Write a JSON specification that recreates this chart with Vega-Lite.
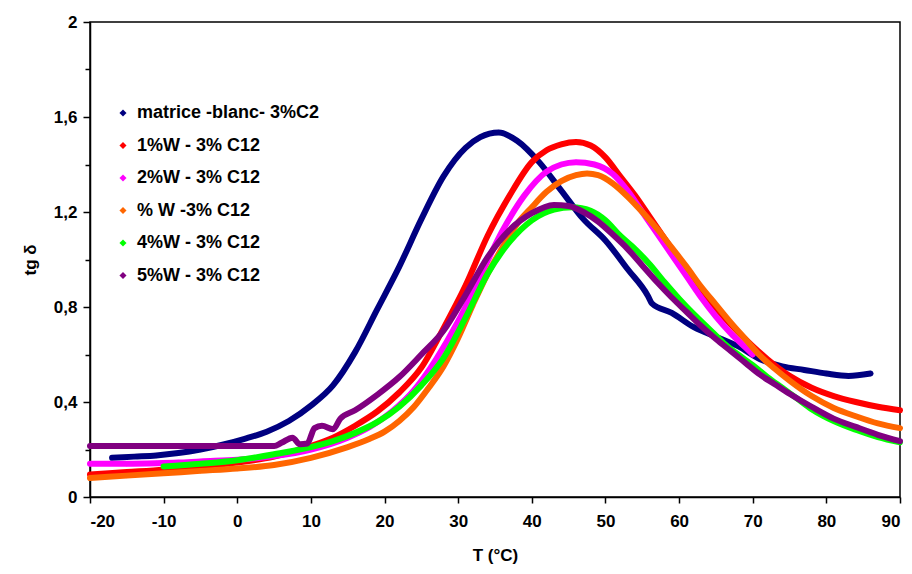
{
  "$schema": "https://vega.github.io/schema/vega-lite/v6.json",
  "width": 810,
  "height": 475,
  "autosize": {"type": "none"},
  "padding": {"left": 90, "top": 22, "right": 12, "bottom": 77},
  "background": "white",
  "config": {
    "view": {"stroke": "#000", "strokeWidth": 1.5},
    "font": "Liberation Sans",
    "axis": {"labelFont": "Liberation Sans", "labelFontWeight": "bold", "labelFontSize": 17, "labelColor": "#000", "titleFont": "Liberation Sans", "titleFontWeight": "bold", "titleFontSize": 17, "titleColor": "#000", "domainColor": "#000", "domainWidth": 1.5, "tickColor": "#000", "tickWidth": 1.5, "grid": false}
  },
  "datasets": {
    "d": [
      {"s": "matrice -blanc- 3%C2", "T": -17, "v": 0.165}, {"s": "matrice -blanc- 3%C2", "T": -14, "v": 0.17}, {"s": "matrice -blanc- 3%C2", "T": -11, "v": 0.175}, {"s": "matrice -blanc- 3%C2", "T": -8, "v": 0.185}, {"s": "matrice -blanc- 3%C2", "T": -5, "v": 0.2}, {"s": "matrice -blanc- 3%C2", "T": -2, "v": 0.22}, {"s": "matrice -blanc- 3%C2", "T": 1, "v": 0.245}, {"s": "matrice -blanc- 3%C2", "T": 4, "v": 0.275}, {"s": "matrice -blanc- 3%C2", "T": 7, "v": 0.32}, {"s": "matrice -blanc- 3%C2", "T": 10, "v": 0.385}, {"s": "matrice -blanc- 3%C2", "T": 13, "v": 0.47}, {"s": "matrice -blanc- 3%C2", "T": 16, "v": 0.61}, {"s": "matrice -blanc- 3%C2", "T": 19, "v": 0.79}, {"s": "matrice -blanc- 3%C2", "T": 22, "v": 0.97}, {"s": "matrice -blanc- 3%C2", "T": 25, "v": 1.17}, {"s": "matrice -blanc- 3%C2", "T": 28, "v": 1.35}, {"s": "matrice -blanc- 3%C2", "T": 31, "v": 1.47}, {"s": "matrice -blanc- 3%C2", "T": 33, "v": 1.515}, {"s": "matrice -blanc- 3%C2", "T": 35.5, "v": 1.535}, {"s": "matrice -blanc- 3%C2", "T": 38, "v": 1.5}, {"s": "matrice -blanc- 3%C2", "T": 41, "v": 1.41}, {"s": "matrice -blanc- 3%C2", "T": 44, "v": 1.29}, {"s": "matrice -blanc- 3%C2", "T": 47, "v": 1.17}, {"s": "matrice -blanc- 3%C2", "T": 50, "v": 1.08}, {"s": "matrice -blanc- 3%C2", "T": 53, "v": 0.96}, {"s": "matrice -blanc- 3%C2", "T": 55.8, "v": 0.845}, {"s": "matrice -blanc- 3%C2", "T": 56.3, "v": 0.815}, {"s": "matrice -blanc- 3%C2", "T": 59, "v": 0.775}, {"s": "matrice -blanc- 3%C2", "T": 62, "v": 0.715}, {"s": "matrice -blanc- 3%C2", "T": 65, "v": 0.675}, {"s": "matrice -blanc- 3%C2", "T": 68, "v": 0.635}, {"s": "matrice -blanc- 3%C2", "T": 71, "v": 0.58}, {"s": "matrice -blanc- 3%C2", "T": 74, "v": 0.55}, {"s": "matrice -blanc- 3%C2", "T": 77, "v": 0.535}, {"s": "matrice -blanc- 3%C2", "T": 80, "v": 0.52}, {"s": "matrice -blanc- 3%C2", "T": 83, "v": 0.51}, {"s": "matrice -blanc- 3%C2", "T": 86, "v": 0.52},

      {"s": "1%W - 3% C12", "T": -20, "v": 0.095}, {"s": "1%W - 3% C12", "T": -15, "v": 0.105}, {"s": "1%W - 3% C12", "T": -10, "v": 0.115}, {"s": "1%W - 3% C12", "T": -5, "v": 0.13}, {"s": "1%W - 3% C12", "T": 0, "v": 0.145}, {"s": "1%W - 3% C12", "T": 5, "v": 0.17}, {"s": "1%W - 3% C12", "T": 10, "v": 0.215}, {"s": "1%W - 3% C12", "T": 13, "v": 0.25}, {"s": "1%W - 3% C12", "T": 16, "v": 0.3}, {"s": "1%W - 3% C12", "T": 19, "v": 0.36}, {"s": "1%W - 3% C12", "T": 22, "v": 0.44}, {"s": "1%W - 3% C12", "T": 25, "v": 0.545}, {"s": "1%W - 3% C12", "T": 28, "v": 0.71}, {"s": "1%W - 3% C12", "T": 31, "v": 0.89}, {"s": "1%W - 3% C12", "T": 34, "v": 1.1}, {"s": "1%W - 3% C12", "T": 37, "v": 1.27}, {"s": "1%W - 3% C12", "T": 40, "v": 1.41}, {"s": "1%W - 3% C12", "T": 42, "v": 1.46}, {"s": "1%W - 3% C12", "T": 44, "v": 1.485}, {"s": "1%W - 3% C12", "T": 46, "v": 1.495}, {"s": "1%W - 3% C12", "T": 48, "v": 1.48}, {"s": "1%W - 3% C12", "T": 50, "v": 1.43}, {"s": "1%W - 3% C12", "T": 52, "v": 1.35}, {"s": "1%W - 3% C12", "T": 54, "v": 1.27}, {"s": "1%W - 3% C12", "T": 56, "v": 1.18}, {"s": "1%W - 3% C12", "T": 58, "v": 1.09}, {"s": "1%W - 3% C12", "T": 60, "v": 1.0}, {"s": "1%W - 3% C12", "T": 62, "v": 0.91}, {"s": "1%W - 3% C12", "T": 64, "v": 0.83}, {"s": "1%W - 3% C12", "T": 66, "v": 0.76}, {"s": "1%W - 3% C12", "T": 68, "v": 0.695}, {"s": "1%W - 3% C12", "T": 70, "v": 0.635}, {"s": "1%W - 3% C12", "T": 72, "v": 0.58}, {"s": "1%W - 3% C12", "T": 75, "v": 0.51}, {"s": "1%W - 3% C12", "T": 78, "v": 0.46}, {"s": "1%W - 3% C12", "T": 81, "v": 0.425}, {"s": "1%W - 3% C12", "T": 84, "v": 0.4}, {"s": "1%W - 3% C12", "T": 87, "v": 0.38}, {"s": "1%W - 3% C12", "T": 90, "v": 0.365},

      {"s": "2%W - 3% C12", "T": -20, "v": 0.14}, {"s": "2%W - 3% C12", "T": -15, "v": 0.14}, {"s": "2%W - 3% C12", "T": -11, "v": 0.142}, {"s": "2%W - 3% C12", "T": -8, "v": 0.145}, {"s": "2%W - 3% C12", "T": -5, "v": 0.15}, {"s": "2%W - 3% C12", "T": 0, "v": 0.157}, {"s": "2%W - 3% C12", "T": 5, "v": 0.172}, {"s": "2%W - 3% C12", "T": 10, "v": 0.2}, {"s": "2%W - 3% C12", "T": 15, "v": 0.25}, {"s": "2%W - 3% C12", "T": 18, "v": 0.295}, {"s": "2%W - 3% C12", "T": 21, "v": 0.36}, {"s": "2%W - 3% C12", "T": 24, "v": 0.45}, {"s": "2%W - 3% C12", "T": 27, "v": 0.58}, {"s": "2%W - 3% C12", "T": 30, "v": 0.74}, {"s": "2%W - 3% C12", "T": 33, "v": 0.93}, {"s": "2%W - 3% C12", "T": 36, "v": 1.12}, {"s": "2%W - 3% C12", "T": 39, "v": 1.27}, {"s": "2%W - 3% C12", "T": 42, "v": 1.37}, {"s": "2%W - 3% C12", "T": 44, "v": 1.4}, {"s": "2%W - 3% C12", "T": 46, "v": 1.41}, {"s": "2%W - 3% C12", "T": 48.5, "v": 1.4}, {"s": "2%W - 3% C12", "T": 51, "v": 1.36}, {"s": "2%W - 3% C12", "T": 53, "v": 1.29}, {"s": "2%W - 3% C12", "T": 55, "v": 1.2}, {"s": "2%W - 3% C12", "T": 57, "v": 1.11}, {"s": "2%W - 3% C12", "T": 59, "v": 1.02}, {"s": "2%W - 3% C12", "T": 61, "v": 0.93}, {"s": "2%W - 3% C12", "T": 63, "v": 0.84}, {"s": "2%W - 3% C12", "T": 65, "v": 0.76}, {"s": "2%W - 3% C12", "T": 67, "v": 0.69}, {"s": "2%W - 3% C12", "T": 69, "v": 0.63}, {"s": "2%W - 3% C12", "T": 70, "v": 0.6},

      {"s": "% W -3% C12", "T": -20, "v": 0.08}, {"s": "% W -3% C12", "T": -15, "v": 0.09}, {"s": "% W -3% C12", "T": -10, "v": 0.1}, {"s": "% W -3% C12", "T": -5, "v": 0.11}, {"s": "% W -3% C12", "T": 0, "v": 0.12}, {"s": "% W -3% C12", "T": 5, "v": 0.135}, {"s": "% W -3% C12", "T": 10, "v": 0.165}, {"s": "% W -3% C12", "T": 15, "v": 0.21}, {"s": "% W -3% C12", "T": 18, "v": 0.245}, {"s": "% W -3% C12", "T": 20, "v": 0.275}, {"s": "% W -3% C12", "T": 22, "v": 0.32}, {"s": "% W -3% C12", "T": 24, "v": 0.38}, {"s": "% W -3% C12", "T": 26, "v": 0.46}, {"s": "% W -3% C12", "T": 28, "v": 0.55}, {"s": "% W -3% C12", "T": 30, "v": 0.67}, {"s": "% W -3% C12", "T": 32, "v": 0.81}, {"s": "% W -3% C12", "T": 34, "v": 0.94}, {"s": "% W -3% C12", "T": 36, "v": 1.05}, {"s": "% W -3% C12", "T": 38, "v": 1.15}, {"s": "% W -3% C12", "T": 40, "v": 1.22}, {"s": "% W -3% C12", "T": 42, "v": 1.285}, {"s": "% W -3% C12", "T": 44, "v": 1.33}, {"s": "% W -3% C12", "T": 46, "v": 1.355}, {"s": "% W -3% C12", "T": 47.5, "v": 1.362}, {"s": "% W -3% C12", "T": 49, "v": 1.355}, {"s": "% W -3% C12", "T": 51, "v": 1.32}, {"s": "% W -3% C12", "T": 53, "v": 1.265}, {"s": "% W -3% C12", "T": 55, "v": 1.2}, {"s": "% W -3% C12", "T": 57, "v": 1.13}, {"s": "% W -3% C12", "T": 59, "v": 1.05}, {"s": "% W -3% C12", "T": 61, "v": 0.97}, {"s": "% W -3% C12", "T": 63, "v": 0.885}, {"s": "% W -3% C12", "T": 65, "v": 0.81}, {"s": "% W -3% C12", "T": 67, "v": 0.735}, {"s": "% W -3% C12", "T": 69, "v": 0.665}, {"s": "% W -3% C12", "T": 71, "v": 0.595}, {"s": "% W -3% C12", "T": 73, "v": 0.54}, {"s": "% W -3% C12", "T": 75, "v": 0.49}, {"s": "% W -3% C12", "T": 78, "v": 0.425}, {"s": "% W -3% C12", "T": 81, "v": 0.375}, {"s": "% W -3% C12", "T": 84, "v": 0.34}, {"s": "% W -3% C12", "T": 87, "v": 0.31}, {"s": "% W -3% C12", "T": 90, "v": 0.29},

      {"s": "4%W - 3% C12", "T": -10, "v": 0.128}, {"s": "4%W - 3% C12", "T": -5, "v": 0.14}, {"s": "4%W - 3% C12", "T": 0, "v": 0.155}, {"s": "4%W - 3% C12", "T": 5, "v": 0.18}, {"s": "4%W - 3% C12", "T": 10, "v": 0.21}, {"s": "4%W - 3% C12", "T": 13, "v": 0.235}, {"s": "4%W - 3% C12", "T": 16, "v": 0.27}, {"s": "4%W - 3% C12", "T": 19, "v": 0.315}, {"s": "4%W - 3% C12", "T": 22, "v": 0.38}, {"s": "4%W - 3% C12", "T": 25, "v": 0.47}, {"s": "4%W - 3% C12", "T": 28, "v": 0.585}, {"s": "4%W - 3% C12", "T": 31, "v": 0.755}, {"s": "4%W - 3% C12", "T": 34, "v": 0.94}, {"s": "4%W - 3% C12", "T": 37, "v": 1.075}, {"s": "4%W - 3% C12", "T": 40, "v": 1.165}, {"s": "4%W - 3% C12", "T": 43, "v": 1.21}, {"s": "4%W - 3% C12", "T": 45.5, "v": 1.22}, {"s": "4%W - 3% C12", "T": 48, "v": 1.205}, {"s": "4%W - 3% C12", "T": 50, "v": 1.165}, {"s": "4%W - 3% C12", "T": 52, "v": 1.1}, {"s": "4%W - 3% C12", "T": 54, "v": 1.045}, {"s": "4%W - 3% C12", "T": 56, "v": 0.98}, {"s": "4%W - 3% C12", "T": 58, "v": 0.905}, {"s": "4%W - 3% C12", "T": 60, "v": 0.835}, {"s": "4%W - 3% C12", "T": 62, "v": 0.77}, {"s": "4%W - 3% C12", "T": 64, "v": 0.71}, {"s": "4%W - 3% C12", "T": 66, "v": 0.65}, {"s": "4%W - 3% C12", "T": 68, "v": 0.6}, {"s": "4%W - 3% C12", "T": 70, "v": 0.555}, {"s": "4%W - 3% C12", "T": 72, "v": 0.505}, {"s": "4%W - 3% C12", "T": 74, "v": 0.46}, {"s": "4%W - 3% C12", "T": 76, "v": 0.415}, {"s": "4%W - 3% C12", "T": 78, "v": 0.37}, {"s": "4%W - 3% C12", "T": 81, "v": 0.32}, {"s": "4%W - 3% C12", "T": 84, "v": 0.283}, {"s": "4%W - 3% C12", "T": 87, "v": 0.252}, {"s": "4%W - 3% C12", "T": 90, "v": 0.23},

      {"s": "5%W - 3% C12", "T": -20, "v": 0.215}, {"s": "5%W - 3% C12", "T": -10, "v": 0.215}, {"s": "5%W - 3% C12", "T": 0, "v": 0.215}, {"s": "5%W - 3% C12", "T": 5, "v": 0.215}, {"s": "5%W - 3% C12", "T": 6, "v": 0.228}, {"s": "5%W - 3% C12", "T": 7.5, "v": 0.25}, {"s": "5%W - 3% C12", "T": 8.5, "v": 0.222}, {"s": "5%W - 3% C12", "T": 9.5, "v": 0.225}, {"s": "5%W - 3% C12", "T": 10.5, "v": 0.29}, {"s": "5%W - 3% C12", "T": 11.5, "v": 0.3}, {"s": "5%W - 3% C12", "T": 13, "v": 0.285}, {"s": "5%W - 3% C12", "T": 14, "v": 0.33}, {"s": "5%W - 3% C12", "T": 16, "v": 0.365}, {"s": "5%W - 3% C12", "T": 19, "v": 0.43}, {"s": "5%W - 3% C12", "T": 22, "v": 0.505}, {"s": "5%W - 3% C12", "T": 25, "v": 0.6}, {"s": "5%W - 3% C12", "T": 28, "v": 0.7}, {"s": "5%W - 3% C12", "T": 31, "v": 0.85}, {"s": "5%W - 3% C12", "T": 34, "v": 1.01}, {"s": "5%W - 3% C12", "T": 37, "v": 1.125}, {"s": "5%W - 3% C12", "T": 40, "v": 1.195}, {"s": "5%W - 3% C12", "T": 43, "v": 1.23}, {"s": "5%W - 3% C12", "T": 45, "v": 1.225}, {"s": "5%W - 3% C12", "T": 47, "v": 1.2}, {"s": "5%W - 3% C12", "T": 49, "v": 1.16}, {"s": "5%W - 3% C12", "T": 51, "v": 1.105}, {"s": "5%W - 3% C12", "T": 53, "v": 1.045}, {"s": "5%W - 3% C12", "T": 55, "v": 0.975}, {"s": "5%W - 3% C12", "T": 57, "v": 0.905}, {"s": "5%W - 3% C12", "T": 59, "v": 0.84}, {"s": "5%W - 3% C12", "T": 61, "v": 0.78}, {"s": "5%W - 3% C12", "T": 63, "v": 0.72}, {"s": "5%W - 3% C12", "T": 65, "v": 0.665}, {"s": "5%W - 3% C12", "T": 67, "v": 0.615}, {"s": "5%W - 3% C12", "T": 69, "v": 0.565}, {"s": "5%W - 3% C12", "T": 71, "v": 0.515}, {"s": "5%W - 3% C12", "T": 73, "v": 0.475}, {"s": "5%W - 3% C12", "T": 75, "v": 0.435}, {"s": "5%W - 3% C12", "T": 78, "v": 0.38}, {"s": "5%W - 3% C12", "T": 81, "v": 0.33}, {"s": "5%W - 3% C12", "T": 84, "v": 0.295}, {"s": "5%W - 3% C12", "T": 87, "v": 0.262}, {"s": "5%W - 3% C12", "T": 90, "v": 0.235}
    ]
  },
  "data": {"name": "d"},
  "layer": [
    {
      "mark": {"type": "point", "shape": "diamond", "filled": true, "size": 30, "opacity": 1},
      "encoding": {
        "x": {"field": "T", "type": "quantitative", "scale": {"domain": [-20, 90], "nice": false, "zero": false},
              "axis": {"values": [-20, -10, 0, 10, 20, 30, 40, 50, 60, 70, 80, 90], "tickSize": 6, "labelPadding": 10,
                       "labelExpr": "datum.value < 0 ? '-' + abs(datum.value) : '' + datum.value",
                       "title": "T (°C)", "titlePadding": 18}},
        "y": {"field": "v", "type": "quantitative", "scale": {"domain": [0, 2], "nice": false},
              "axis": {"values": [0, 0.2, 0.4, 0.6, 0.8, 1.0, 1.2, 1.4, 1.6, 1.8, 2.0],
                       "tickSize": {"condition": {"test": "round(datum.value*10) % 4 === 0", "value": 7}, "value": 5},
                       "labelExpr": "round(datum.value*10) % 4 === 0 ? replace(format(datum.value, '.1~f'), '.', ',') : ''",
                       "labelPadding": 6, "title": "tg δ", "titlePadding": 14}},
        "color": {"field": "s", "type": "nominal",
                  "scale": {"domain": ["matrice -blanc- 3%C2", "1%W - 3% C12", "2%W - 3% C12", "% W -3% C12", "4%W - 3% C12", "5%W - 3% C12"],
                            "range": ["#000080", "#FF0000", "#FF00FF", "#FF6600", "#00FF00", "#800080"]},
                  "legend": {"orient": "none", "legendX": 24, "legendY": 82, "title": null, "symbolType": "diamond", "symbolSize": 50,
                             "labelFont": "Liberation Sans", "labelFontWeight": "bold", "labelFontSize": 18, "labelColor": "#000",
                             "rowPadding": 14.5, "labelOffset": 5, "padding": 0, "symbolStrokeWidth": 0, "labelLimit": 400}}
      }
    },
    {
      "mark": {"type": "line", "strokeWidth": 6, "interpolate": "monotone", "strokeCap": "round", "strokeJoin": "round"},
      "encoding": {
        "x": {"field": "T", "type": "quantitative"},
        "y": {"field": "v", "type": "quantitative"},
        "color": {"field": "s", "type": "nominal", "legend": null}
      }
    }
  ],
  "resolve": {"legend": {"color": "independent"}}
}
